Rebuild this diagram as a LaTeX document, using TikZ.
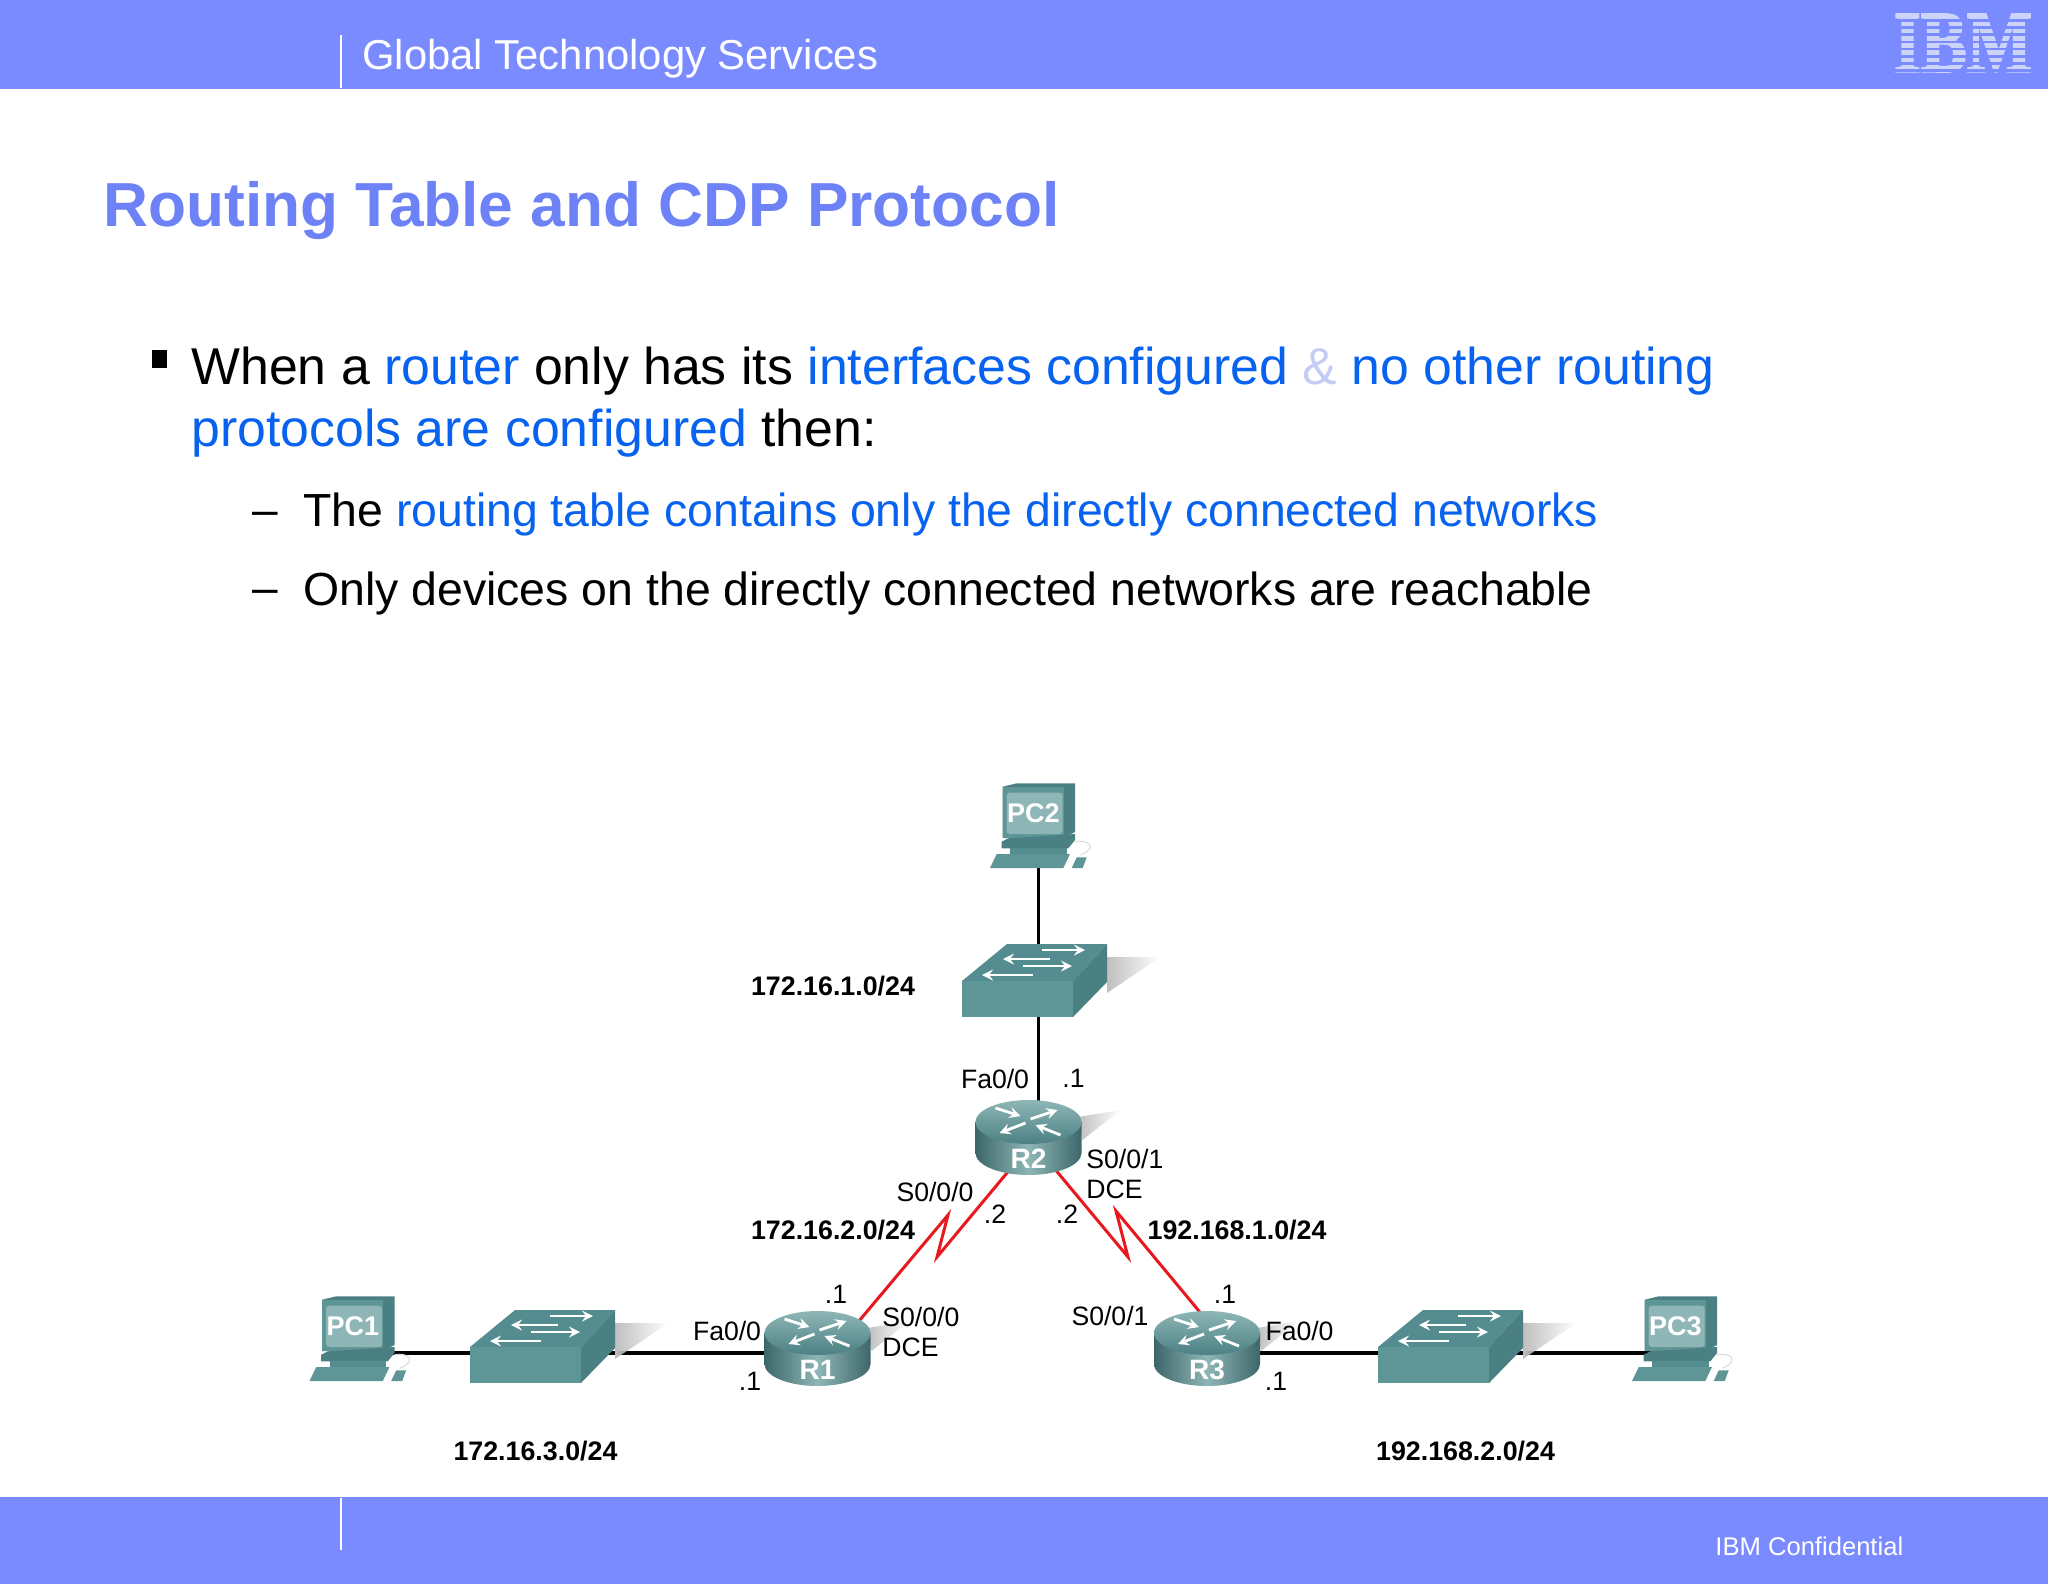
\documentclass[tikz,border=0pt]{standalone}
\usepackage{fontspec}
\usepackage{tikz}
\setmainfont{Liberation Sans}
\newfontfamily\logofont[BoldFeatures={FakeBold=2.5}]{Liberation Serif}
\usetikzlibrary{fadings}
\definecolor{bandblue}{RGB}{122,139,255}
\definecolor{titleblue}{RGB}{108,130,246}
\definecolor{linkblue}{RGB}{8,98,240}
\definecolor{ampblue}{RGB}{196,204,245}
\definecolor{logoblue}{RGB}{205,212,250}
\definecolor{tealfront}{RGB}{94,149,151}
\definecolor{tealtop}{RGB}{84,140,143}
\definecolor{tealside}{RGB}{75,128,131}
\definecolor{teallight}{RGB}{143,182,182}
\definecolor{serialred}{RGB}{232,24,30}
\tikzset{
  slide text/.style={anchor=base west, inner sep=0pt, font=\fontsize{#1}{#1}\selectfont},
  net label/.style={inner sep=0pt, align=left, yshift=-0.5pt, font=\fontsize{13.3}{15}\selectfont},
  net bold/.style={inner sep=0pt, yshift=-0.5pt, font=\fontsize{13.4}{15}\selectfont\bfseries},
  device/.style={inner sep=0pt, minimum size=0pt},
  ether/.style={draw=black, line width=1.9pt},
  serial/.style={draw=serialred, line width=1.5pt, line join=miter},
  flow/.style={draw=white, line width=1.4pt, -stealth},
  pics/pcicon/.style={code={
    \fill [tealside] (-35.8,-53.3) -- (-21.8,-56.7) -- (36.5,-56.7) -- (36.5,-8) -- (25,-2) -- (-35.8,-2) -- cycle;
    \fill [tealfront] (-35.8,-53.3) rectangle (25,-2);
    \fill [teallight, rounded corners=1.5pt] (-31.8,-47.3) rectangle (24.2,-6);
    \node [inner sep=0pt, text=white, font=\fontsize{13.5}{14}\selectfont\bfseries] at (-5.2,-27) {#1};
    \fill [tealside] (-36.8,1.7) -- (-30.2,-1.7) -- (36.5,-6) -- (36.5,0) -- (29.8,8.3) -- (-36.8,8.3) -- cycle;
    \fill [tealtop] (-28.5,8.3) rectangle (28,14);
    \fill [tealfront] (-48.5,28) -- (-41.8,14) -- (31.5,14) -- (24.8,28) -- cycle;
    \fill [tealfront] (33.2,28) -- (38.2,17.3) -- (48.2,17.3) -- (44.2,28) -- cycle;
    \draw [black!15, line width=.5pt] (36.5,1.7) .. controls (50,-1) and (60,8) .. (42,15);
  }},
  pics/switchicon/.style={code={
    \fill [black!25, path fading=east] (68.5,-30) -- (122,-30) -- (68.5,6) -- cycle;
    \fill [tealtop] (-76.5,-6) -- (-31.5,-43) -- (68.5,-43) -- (34.5,-6) -- cycle;
    \fill [tealside] (34.5,-6) -- (68.5,-43) -- (68.5,-5) -- (34.5,30) -- cycle;
    \fill [tealfront] (-76.5,-6) rectangle (34.5,30);
    \draw [flow] (3.5,-37) -- (46.5,-37);
    \draw [flow] (11.5,-28) -- (-35.5,-28);
    \draw [flow] (-15.5,-21) -- (33.5,-21);
    \draw [flow] (-5.5,-12) -- (-56.5,-12);
  }},
  pics/routericon/.style={code={
    \fill [black!25, path fading=east] (50,-25) -- (92,-32) -- (54,-2) -- cycle;
    \path [left color=tealside!80!black, right color=tealside!80!black, middle color=teallight]
      (-53,-20) -- (-53,11) arc [start angle=180, end angle=360, x radius=26.5pt, y radius=11pt] -- (53,-20) -- cycle;
    \path [top color=teallight, bottom color=tealside]
      (0,-20) ellipse [x radius=26.5pt, y radius=11pt];
    \draw [flow] (-33,-34) -- (-8,-26);
    \draw [flow] (2,-23) -- (29,-32);
    \draw [flow] (-3,-19) -- (-29,-9);
    \draw [flow] (32,-7) -- (7,-17);
    \node [inner sep=0pt, text=white, font=\fontsize{14}{14}\selectfont\bfseries] at (0,17) {#1};
  }},
}
\begin{document}
\begin{tikzpicture}[x=0.5pt, y=-0.5pt]
  \useasboundingbox (0,0) rectangle (2048,1584);

  \fill [bandblue] (0,0) rectangle (2048,89);
  \fill [bandblue] (0,1497) rectangle (2048,1584);
  \draw [white, line width=.6pt] (341,35) -- (341,88);
  \draw [white, line width=.6pt] (341,1498) -- (341,1550);
  \node [slide text=20.9, text=white] (header) at (362,70) {Global Technology Services};
  \node [slide text=12.8, text=white] (footer) at (1715,1555) {IBM Confidential};

  \node [inner sep=0pt, text=logoblue, font=\fontsize{34.5}{34.5}\logofont\bfseries, yscale=1.27, transform shape] (logo) at (1963,43) {IBM};
  \foreach \i in {0,...,7}
    \fill [bandblue] (1885,{19+7.2*\i}) rectangle (2040,{21.6+7.2*\i});

  \node [slide text=31.1, text=titleblue] (title) at (103,226) {\bfseries Routing Table and CDP Protocol};

  \fill [black] (151.5,350) rectangle (167,368);
  \node [slide text=25.9, text=black] (lineone) at (191,384) {When a \textcolor{linkblue}{router} only has its \textcolor{linkblue}{interfaces configured} \textcolor{ampblue}{\&} \textcolor{linkblue}{no other routing}};
  \node [slide text=25.9, text=black] (linetwo) at (191,446) {\textcolor{linkblue}{protocols are configured} then:};
  \node [slide text=23, text=black] (dashone) at (252,525) {–};
  \node [slide text=23, text=black] (dashtwo) at (252,603) {–};
  \node [slide text=23.2, text=black] (subone) at (303,526) {The \textcolor{linkblue}{routing table contains only the directly connected networks}};
  \node [slide text=23.2, text=black] (subtwo) at (303,605) {Only devices on the directly connected networks are reachable};

  \node [device] (PC1) at (358,1353) {};
  \node [device] (PC2) at (1038.5,840) {};
  \node [device] (PC3) at (1680.5,1353) {};
  \node [device] (SW1) at (546.5,1353) {};
  \node [device] (SW2) at (1038.5,987) {};
  \node [device] (SW3) at (1454.5,1353) {};
  \node [device] (R1) at (817.5,1353) {};
  \node [device] (R2) at (1028.5,1142) {};
  \node [device] (R3) at (1207,1353) {};
  \coordinate (R1in) at ([shift={(25.5,-13)}]R1);
  \coordinate (R3in) at ([shift={(16,-13)}]R3);
  \coordinate (R2left) at ([shift={(-2.5,8)}]R2);
  \coordinate (R2right) at ([shift={(10.5,8)}]R2);
  \coordinate (leftlow) at (937,1257);
  \coordinate (lefthigh) at (948,1215);
  \coordinate (rightlow) at (1128,1257);
  \coordinate (righthigh) at (1116,1211);

  \draw [ether] (PC1) -- (SW1) -- (R1);
  \draw [ether] (PC2) -- (SW2) -- (SW2 |- R2);
  \draw [ether] (PC3) -- (SW3) -- (R3);
  \draw [serial] (R2left) -- (leftlow) -- (lefthigh) -- (R1in);
  \draw [serial] (R2right) -- (rightlow) -- (righthigh) -- (R3in);

  \pic at (PC1) {pcicon=PC1};
  \pic at (PC2) {pcicon=PC2};
  \pic at (PC3) {pcicon=PC3};
  \pic at (SW1) {switchicon};
  \pic at (SW2) {switchicon};
  \pic at (SW3) {switchicon};
  \pic at (R1) {routericon=R1};
  \pic at (R2) {routericon=R2};
  \pic at (R3) {routericon=R3};

  \node [net bold] (netone) at (833,985) {172.16.1.0/24};
  \node [net bold] (nettwo) at (833,1229) {172.16.2.0/24};
  \node [net bold] (netthree) at (535.5,1450) {172.16.3.0/24};
  \node [net bold] (netfour) at (1237,1229) {192.168.1.0/24};
  \node [net bold] (netfive) at (1465.5,1450) {192.168.2.0/24};

  \node [net label] (R2fa) at (995,1077.5) {Fa0/0};
  \node [net label] (R2dot) at (1073.5,1077.5) {.1};
  \node [net label, anchor=west] (R2sone) at (1086,1173) {S0/0/1\\DCE};
  \node [net label] (R2szero) at (935,1191) {S0/0/0};
  \node [net label] (R2dotl) at (995,1213) {.2};
  \node [net label] (R2dotr) at (1067,1213) {.2};
  \node [net label] (R1dots) at (836,1293) {.1};
  \node [net label, anchor=west] (R1szero) at (882,1331) {S0/0/0\\DCE};
  \node [net label] (R1fa) at (727,1329.5) {Fa0/0};
  \node [net label] (R1dotf) at (750,1380.5) {.1};
  \node [net label] (R3dots) at (1225,1293) {.1};
  \node [net label] (R3sone) at (1110,1315) {S0/0/1};
  \node [net label] (R3fa) at (1299.5,1329.5) {Fa0/0};
  \node [net label] (R3dotf) at (1276,1380.5) {.1};
\end{tikzpicture}
\end{document}
